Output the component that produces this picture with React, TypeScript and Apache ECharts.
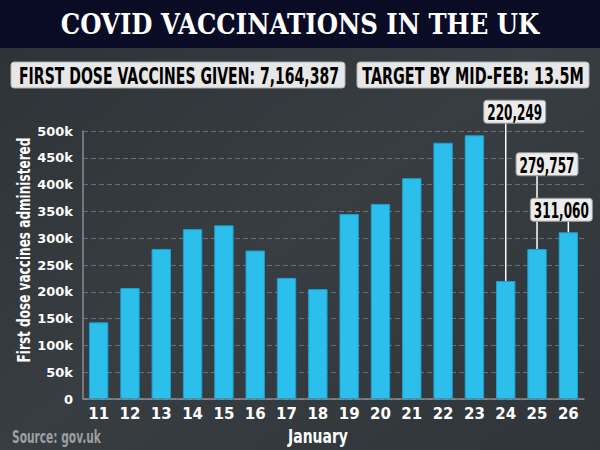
import React, { useEffect, useRef } from "react";
import * as echarts from "echarts";

const days = ["11", "12", "13", "14", "15", "16", "17", "18", "19", "20", "21", "22", "23", "24", "25", "26"];
const firstDoses = [143000, 207000, 280000, 317000, 324000, 277000, 226000, 205000, 345000, 364000, 412000, 478000, 492000, 220249, 279757, 311060];
const annotIndex = [13, 14, 15];
const annotLabels = ["220,249", "279,757", "311,060"];
const annotBoxLevel = [536000, 438000, 353000];
const annotBoxShift = [9, 10, -7];

const SANS = "'DejaVu Sans', 'Noto Sans', sans-serif";

let measureCtx: CanvasRenderingContext2D | null = null;
function fitScale(text: string, font: string, target: number): number {
  if (!measureCtx) measureCtx = document.createElement("canvas").getContext("2d");
  if (!measureCtx) return 1;
  measureCtx.font = font;
  const w = measureCtx.measureText(text).width;
  return w > 0 ? target / w : 1;
}

function fitText(text: string, font: string, target: number, x: number, y: number, fill: string, align: string, extra: any = {}) {
  return {
    type: "text", x, y, scaleX: fitScale(text, font, target), z: 11, ...extra,
    style: { text, fill, font, textAlign: align, textVerticalAlign: "middle" },
  };
}

export default function App() {
  const ref = useRef<HTMLDivElement>(null);
  useEffect(() => {
    if (!ref.current) return;
    const chart = echarts.init(ref.current, null, { renderer: "svg" });
    const annotData = annotIndex.map((i, k) => [i, firstDoses[i], annotBoxLevel[k], k]);
    const annotFont = "bold 21px " + SANS;
    const annotScale = annotLabels.map((t) => fitScale(t, annotFont, 55));
    chart.setOption({
      animation: false,
      backgroundColor: {
        type: "linear", x: 0, y: 0, x2: 1, y2: 1,
        colorStops: [
          { offset: 0, color: "#2c3236" },
          { offset: 0.5, color: "#373d41" },
          { offset: 1, color: "#2f3538" },
        ],
      },
      grid: { left: 83, right: 16, top: 131, bottom: 51 },
      xAxis: {
        type: "category",
        data: days,
        axisLine: { show: true, lineStyle: { color: "#8a8d8f", width: 1.5 } },
        axisTick: { show: false },
        axisLabel: { color: "#ffffff", fontSize: 15, fontWeight: "bold", fontFamily: SANS, margin: 7 },
      },
      yAxis: {
        type: "value",
        min: 0,
        max: 500000,
        interval: 50000,
        axisLine: { show: true, lineStyle: { color: "#8a8d8f", width: 1.5 } },
        axisTick: { show: false },
        splitLine: { show: true, lineStyle: { color: "rgba(255,255,255,0.28)", type: [5, 3], width: 1 } },
        axisLabel: {
          color: "#ffffff", fontSize: 13, fontWeight: "bold", fontFamily: SANS, margin: 10,
          formatter: (v: number) => (v === 0 ? "0" : v / 1000 + "k"),
        },
      },
      series: [
        {
          type: "bar",
          data: firstDoses,
          barCategoryGap: "38%",
          itemStyle: { color: "#2cbfeb", borderColor: "#1c9fcf", borderWidth: 1 },
          z: 2,
        },
        {
          type: "custom",
          data: annotData,
          clip: false,
          z: 5,
          renderItem: (params: any, api: any) => {
            const idx = api.value(0);
            const val = api.value(1);
            const lvl = api.value(2);
            const k = api.value(3);
            const top = api.coord([idx, val]);
            const box = api.coord([idx, lvl]);
            const w = 62, h = 23;
            const cx = top[0] + annotBoxShift[k];
            return {
              type: "group",
              children: [
                { type: "line", shape: { x1: top[0], y1: box[1] + h / 2, x2: top[0], y2: top[1] }, style: { stroke: "#ffffff", lineWidth: 1.5 } },
                { type: "rect", shape: { x: cx - w / 2, y: box[1] - h / 2, width: w, height: h, r: 3 }, style: { fill: "#ececec", stroke: "#9a9a9a", lineWidth: 1 } },
                {
                  type: "text", x: cx, y: box[1] + 1, scaleX: annotScale[k],
                  style: { text: annotLabels[k], fill: "#000000", font: annotFont, textAlign: "center", textVerticalAlign: "middle" },
                },
              ],
            };
          },
        },
      ],
      graphic: [
        { type: "rect", left: 0, top: 0, shape: { width: 600, height: 48 }, style: { fill: "#0a0b24" }, z: 10 },
        fitText("COVID VACCINATIONS IN THE UK", "bold 27px 'DejaVu Serif', serif", 479, 300, 25, "#ffffff", "center"),
        { type: "rect", x: 11, y: 62, shape: { width: 334, height: 26, r: 3 }, style: { fill: "#e7e7e7", stroke: "#b0b0b0", lineWidth: 1 }, z: 10 },
        fitText("FIRST DOSE VACCINES GIVEN: 7,164,387", "bold 23px " + SANS, 320, 179, 76, "#000000", "center"),
        { type: "rect", x: 357, y: 62, shape: { width: 232, height: 26, r: 3 }, style: { fill: "#e7e7e7", stroke: "#b0b0b0", lineWidth: 1 }, z: 10 },
        fitText("TARGET BY MID-FEB: 13.5M", "bold 23px " + SANS, 222, 473, 76, "#000000", "center"),
        fitText("First dose vaccines administered", "bold 17px " + SANS, 225, 24, 250, "#ffffff", "center", { rotation: Math.PI / 2 }),
        fitText("January", "bold 19px " + SANS, 60, 318, 437, "#ffffff", "center"),
        fitText("Source: gov.uk", "bold 17px " + SANS, 89, 12, 437, "#9c9fa1", "left"),
      ],
    });
    return () => chart.dispose();
  }, []);
  return <div ref={ref} style={{ width: 600, height: 450, position: "absolute", left: 0, top: 0 }} />;
}
